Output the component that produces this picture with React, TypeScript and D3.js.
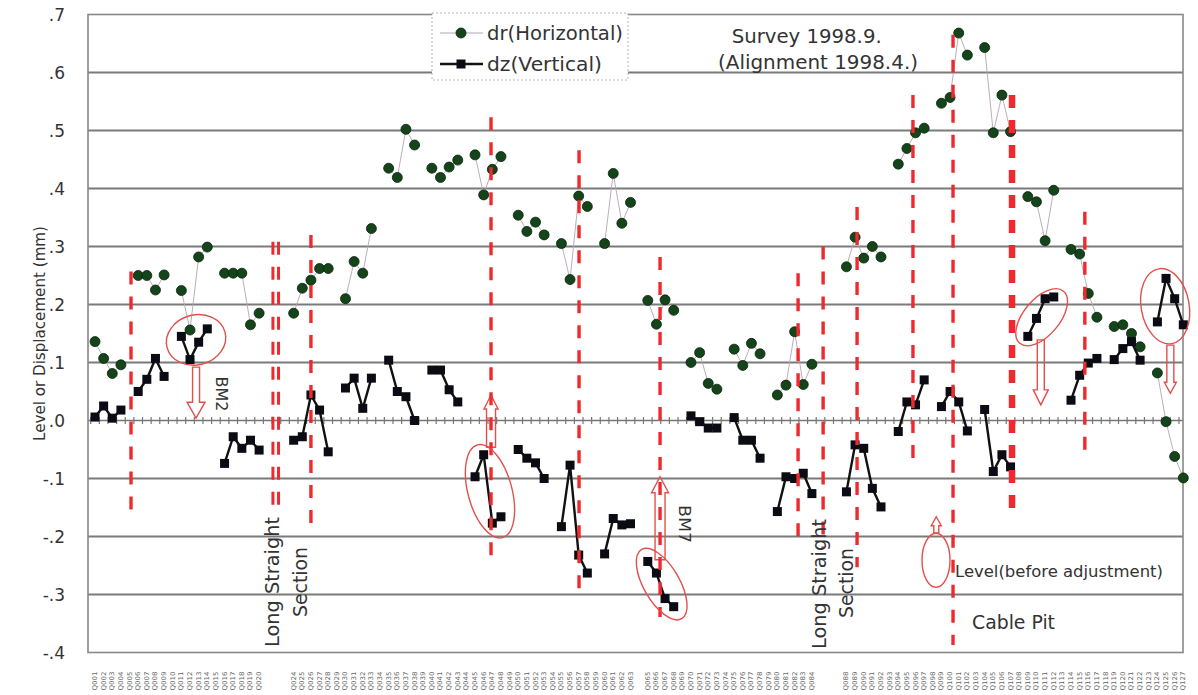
import React from "react";
import * as d3 from "d3";

// ---------------- data ----------------
// dr (Horizontal) displacement by survey position (null = no point)
const drValues: (number | null)[] = [
  0.136, 0.107, 0.081, 0.096, null, 0.25, 0.25, 0.225, 0.251, null,
  0.224, 0.156, 0.282, 0.299, null, 0.254, 0.254, 0.254, 0.165, 0.185,
  null, null, null, 0.185, 0.228, 0.242, 0.262, 0.262, null, 0.21,
  0.274, 0.254, 0.331, null, 0.435, 0.419, 0.502, 0.475, null, 0.435,
  0.419, 0.437, 0.449, null, 0.458, 0.389, 0.433, 0.455, null, 0.354,
  0.326, 0.342, 0.32, null, 0.305, 0.243, 0.387, 0.369, null, 0.305,
  0.426, 0.34, 0.376, null, 0.207, 0.166, 0.208, 0.19, null, 0.1,
  0.117, 0.064, 0.054, null, 0.123, 0.095, 0.133, 0.115, null, 0.044,
  0.061, 0.153, 0.062, 0.097, null, null, null, 0.265, 0.316, 0.28,
  0.3, 0.282, null, 0.442, 0.469, 0.496, 0.504, null, 0.547, 0.557,
  0.668, 0.63, null, 0.643, 0.496, 0.561, 0.498, null, 0.386, 0.377,
  0.31, 0.397, null, 0.295, 0.287, 0.219, 0.178, null, 0.162, 0.165,
  0.15, 0.127, null, 0.082, -0.002, -0.062, -0.099,
];

// dz (Vertical) level by survey position
const dzValues: (number | null)[] = [
  0.006, 0.025, 0.004, 0.018, null, 0.05, 0.071, 0.107, 0.076, null,
  0.145, 0.105, 0.135, 0.158, null, -0.074, -0.028, -0.048, -0.034, -0.051,
  null, null, null, -0.034, -0.028, 0.044, 0.018, -0.054, null, 0.056,
  0.073, 0.021, 0.073, null, 0.104, 0.05, 0.041, 0.0, null, 0.087,
  0.087, 0.053, 0.032, null, -0.097, -0.059, -0.177, -0.166, null, -0.05,
  -0.065, -0.073, -0.1, null, -0.183, -0.077, -0.232, -0.263, null, -0.23,
  -0.169, -0.18, -0.178, null, -0.243, -0.263, -0.307, -0.321, null, 0.008,
  -0.002, -0.013, -0.013, null, 0.005, -0.034, -0.034, -0.065, null, -0.157,
  -0.097, -0.1, -0.091, -0.126, null, null, null, -0.123, -0.042, -0.048,
  -0.117, -0.149, null, -0.019, 0.032, 0.027, 0.07, null, 0.024, 0.05,
  0.032, -0.018, null, 0.019, -0.088, -0.059, -0.08, null, 0.145, 0.176,
  0.21, 0.213, null, 0.035, 0.078, 0.099, 0.107, null, 0.105, 0.124,
  0.136, 0.104, null, 0.17, 0.245, 0.21, 0.165,
];

const yTickValues = [0.7, 0.6, 0.5, 0.4, 0.3, 0.2, 0.1, 0.0, -0.1, -0.2, -0.3, -0.4];
const yTickLabels = [".7", ".6", ".5", ".4", ".3", ".2", ".1", ".0", "-.1", "-.2", "-.3", "-.4"];

// category label groups (first, last index)
const labelGroups: [number, number][] = [[0, 19], [23, 62], [64, 83], [87, 126]];
const categoryLabels: string[] = drValues.map((_, i) =>
  labelGroups.some(([a, b]) => i >= a && i <= b) ? "Q" + String(i + 1).padStart(3, "0") : ""
);

// red dashed markers (category position, top value, bottom value, width)
const redLines = [
  { pos: 4.17, top: 0.257, bottom: -0.166, w: 3.4 },
  { pos: 20.6, top: 0.308, bottom: -0.158, w: 3 },
  { pos: 21.25, top: 0.308, bottom: -0.158, w: 3 },
  { pos: 25.0, top: 0.32, bottom: -0.197, w: 3.4 },
  { pos: 45.85, top: 0.523, bottom: -0.24, w: 3.4 },
  { pos: 56.04, top: 0.466, bottom: -0.31, w: 3.4 },
  { pos: 65.42, top: 0.282, bottom: -0.339, w: 3.4 },
  { pos: 81.4, top: 0.254, bottom: -0.22, w: 3.4 },
  { pos: 84.3, top: 0.3, bottom: -0.22, w: 3.4 },
  { pos: 88.23, top: 0.368, bottom: -0.253, w: 3.4 },
  { pos: 94.7, top: 0.561, bottom: -0.065, w: 3.4 },
  { pos: 99.34, top: 0.665, bottom: -0.387, w: 3.4 },
  { pos: 106.17, top: 0.561, bottom: -0.163, w: 6.5 },
  { pos: 114.6, top: 0.36, bottom: -0.063, w: 3.4 },
];

const arrows = [
  { pos: 11.7, from: 0.092, to: 0.004, shaft: 3.5, head: 9, len: 16 },
  { pos: 45.85, from: -0.046, to: 0.044, shaft: 4.5, head: 7, len: 14 },
  { pos: 65.42, from: -0.24, to: -0.097, shaft: 5, head: 8.5, len: 16 },
  { pos: 109.5, from: 0.139, to: 0.027, shaft: 3.5, head: 7.5, len: 15 },
  { pos: 124.5, from: 0.13, to: 0.047, shaft: 3.5, head: 6, len: 11 },
  { pos: 97.4, from: -0.194, to: -0.166, shaft: 2.5, head: 5, len: 9 },
];

const ellipses = [
  { pos: 11.7, val: 0.139, rx: 30, ry: 25, rot: -15 },
  { pos: 45.73, val: -0.122, rx: 22, ry: 48, rot: -15 },
  { pos: 65.61, val: -0.282, rx: 18, ry: 40, rot: -30 },
  { pos: 109.6, val: 0.178, rx: 18, ry: 34, rot: 40 },
  { pos: 123.9, val: 0.197, rx: 24, ry: 38, rot: -10 },
  { pos: 97.37, val: -0.241, rx: 14, ry: 27, rot: 0 },
];

// ---------------- layout ----------------
const W = 1198;
const H = 695;
const FONT = "'DejaVu Sans', Verdana, sans-serif";
const TEXT = "#333";
const RED = "#ee2a2e";
const RED_THIN = "#e2504c";

const x = d3.scaleLinear().domain([0, 126]).range([95, 1183.3]);
const y = d3.scaleLinear().domain([-0.4, 0.7]).range([652.5, 14.5]);
const plotL = 88;
const plotR = 1183;
const step = x(1) - x(0);

function arrowPath(cx: number, yBase: number, yTip: number, s: number, h: number, len: number) {
  const dir = yTip > yBase ? 1 : -1;
  const yNeck = yTip - dir * len;
  return `M${cx - s},${yBase} L${cx - s},${yNeck} L${cx - h},${yNeck} L${cx},${yTip} L${cx + h},${yNeck} L${cx + s},${yNeck} L${cx + s},${yBase} Z`;
}

export default function App() {
  const idx = d3.range(drValues.length);
  const drLine = d3
    .line<number>()
    .defined((i) => drValues[i] != null)
    .x((i) => x(i))
    .y((i) => y(drValues[i] as number));
  const dzLine = d3
    .line<number>()
    .defined((i) => dzValues[i] != null)
    .x((i) => x(i))
    .y((i) => y(dzValues[i] as number));

  const zeroTicks = d3.range(0, 128).map((i) => x(i) - step / 2).filter((v) => v > plotL && v < plotR);
  const plotMidY = (y(0.7) + y(-0.4)) / 2;

  return (
    <div style={{ position: "absolute", left: 0, top: 0 }}>
      <svg width={W} height={H} style={{ display: "block", background: "#fff" }}>
        {/* grid lines */}
        {yTickValues
          .filter((v) => v !== 0 && v !== 0.7 && v !== -0.4)
          .map((v) => (
            <line key={"g" + v} x1={plotL} x2={plotR} y1={y(v)} y2={y(v)} stroke="#7a7a7a" strokeWidth={1.8} />
          ))}
        {/* zero axis with ticks */}
        <line x1={plotL} x2={plotR} y1={y(0)} y2={y(0)} stroke="#777" strokeWidth={1.5} />
        {zeroTicks.map((tx, i) => (
          <line key={"zt" + i} x1={tx} x2={tx} y1={y(0) - 3.5} y2={y(0) + 3.5} stroke="#777" strokeWidth={1.2} />
        ))}
        {/* frame */}
        <rect x={plotL} y={y(0.7)} width={plotR - plotL} height={y(-0.4) - y(0.7)} fill="none" stroke="#888" strokeWidth={1.6} />

        {/* y tick labels */}
        {yTickValues.map((v, i) => (
          <text key={"yl" + i} x={65} y={y(v)} textAnchor="end" dominantBaseline="central" fontFamily={FONT} fontSize={17} fill={TEXT}>
            {yTickLabels[i]}
          </text>
        ))}
        <text
          transform={`translate(40,${plotMidY}) rotate(-90)`}
          textAnchor="middle"
          dominantBaseline="central"
          fontFamily={FONT}
          fontSize={15}
          fill={TEXT}
          textLength={215}
          lengthAdjust="spacingAndGlyphs"
        >
          Level or Displacement (mm)
        </text>

        {/* category labels */}
        {categoryLabels.map((lab, i) =>
          lab ? (
            <text
              key={"cl" + i}
              transform={`translate(${x(i)},681) rotate(-90)`}
              textAnchor="middle"
              dominantBaseline="central"
              fontFamily={FONT}
              fontSize={6.5}
              fill="#666"
              textLength={19}
              lengthAdjust="spacingAndGlyphs"
            >
              {lab}
            </text>
          ) : null
        )}

        {/* dr series */}
        <path d={drLine(idx) || ""} fill="none" stroke="#b4a4b2" strokeWidth={0.9} />
        {idx.map((i) =>
          drValues[i] != null ? (
            <circle key={"dr" + i} cx={x(i)} cy={y(drValues[i] as number)} r={5} fill="#14451a" stroke="#0a220c" strokeWidth={0.8} />
          ) : null
        )}
        {/* dz series */}
        <path d={dzLine(idx) || ""} fill="none" stroke="#111" strokeWidth={2.4} />
        {idx.map((i) =>
          dzValues[i] != null ? (
            <rect key={"dz" + i} x={x(i) - 4.5} y={y(dzValues[i] as number) - 4.5} width={9} height={9} fill="#0b0b14" />
          ) : null
        )}

        {/* arrows */}
        {arrows.map((a, i) => (
          <path
            key={"ar" + i}
            d={arrowPath(x(a.pos), y(a.from), y(a.to), a.shaft, a.head, a.len)}
            fill="none"
            stroke={RED_THIN}
            strokeWidth={1.4}
          />
        ))}

        {/* red dashed lines */}
        {redLines.map((r, i) => (
          <line
            key={"rl" + i}
            x1={x(r.pos)}
            x2={x(r.pos)}
            y1={y(r.top)}
            y2={y(r.bottom)}
            stroke={RED}
            strokeWidth={r.w}
            strokeDasharray="13 12"
          />
        ))}

        {/* ellipses */}
        {ellipses.map((e, i) => (
          <ellipse
            key={"el" + i}
            cx={0}
            cy={0}
            rx={e.rx}
            ry={e.ry}
            transform={`translate(${x(e.pos)},${y(e.val)}) rotate(${e.rot})`}
            fill="none"
            stroke={RED_THIN}
            strokeWidth={1.4}
          />
        ))}

        {/* annotation texts */}
        <text transform="translate(221.7,394) rotate(90)" textAnchor="middle" dominantBaseline="central" fontFamily={FONT} fontSize={16} fill={TEXT} textLength={35} lengthAdjust="spacingAndGlyphs">BM2</text>
        <text transform="translate(684,524) rotate(90)" textAnchor="middle" dominantBaseline="central" fontFamily={FONT} fontSize={16} fill={TEXT} textLength={38} lengthAdjust="spacingAndGlyphs">BM7</text>
        <text transform="translate(272,582) rotate(-90)" textAnchor="middle" dominantBaseline="central" fontFamily={FONT} fontSize={19} fill={TEXT} textLength={130} lengthAdjust="spacingAndGlyphs">Long Straight</text>
        <text transform="translate(300,582) rotate(-90)" textAnchor="middle" dominantBaseline="central" fontFamily={FONT} fontSize={19} fill={TEXT} textLength={70} lengthAdjust="spacingAndGlyphs">Section</text>
        <text transform="translate(819,584) rotate(-90)" textAnchor="middle" dominantBaseline="central" fontFamily={FONT} fontSize={19} fill={TEXT} textLength={130} lengthAdjust="spacingAndGlyphs">Long Straight</text>
        <text transform="translate(846,583) rotate(-90)" textAnchor="middle" dominantBaseline="central" fontFamily={FONT} fontSize={19} fill={TEXT} textLength={70} lengthAdjust="spacingAndGlyphs">Section</text>
        <text x={955} y={577} fontFamily={FONT} fontSize={16.4} fill={TEXT} textLength={208} lengthAdjust="spacingAndGlyphs">Level(before adjustment)</text>
        <text x={972} y={629} fontFamily={FONT} fontSize={18.7} fill={TEXT} textLength={83} lengthAdjust="spacingAndGlyphs">Cable Pit</text>

        {/* title */}
        <text x={806.7} y={43} textAnchor="middle" fontFamily={FONT} fontSize={19.5} fill={TEXT} textLength={150} lengthAdjust="spacingAndGlyphs">Survey 1998.9.</text>
        <text x={818} y={69} textAnchor="middle" fontFamily={FONT} fontSize={19.5} fill={TEXT} textLength={200} lengthAdjust="spacingAndGlyphs">(Alignment 1998.4.)</text>

        {/* legend */}
        <rect x={432} y={13} width={196} height={67} fill="#fff" stroke="#b5b5b5" strokeWidth={1} strokeDasharray="2 2" />
        <line x1={440} x2={483} y1={33} y2={33} stroke="#b4a4b2" strokeWidth={1} />
        <circle cx={461} cy={33} r={5} fill="#14451a" stroke="#0a220c" strokeWidth={0.8} />
        <text x={487} y={40} fontFamily={FONT} fontSize={19} fill={TEXT} textLength={136} lengthAdjust="spacingAndGlyphs">dr(Horizontal)</text>
        <line x1={440} x2={483} y1={64} y2={64} stroke="#111" strokeWidth={2.4} />
        <rect x={456.5} y={59.5} width={9} height={9} fill="#0b0b14" />
        <text x={487} y={71} fontFamily={FONT} fontSize={19} fill={TEXT} textLength={115} lengthAdjust="spacingAndGlyphs">dz(Vertical)</text>
      </svg>
    </div>
  );
}
